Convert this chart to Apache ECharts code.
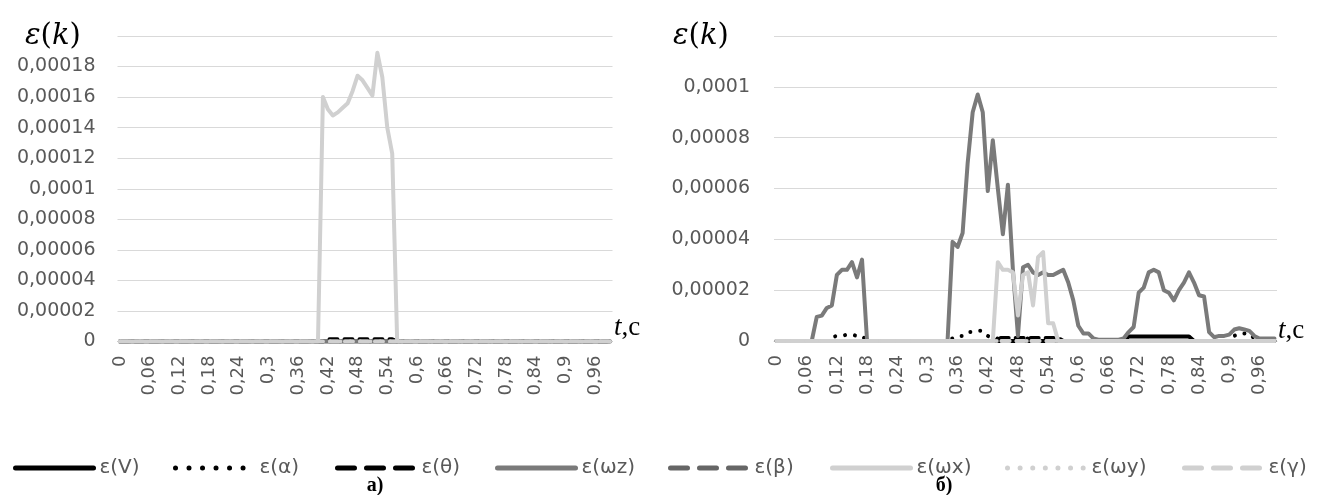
<!DOCTYPE html>
<html>
<head>
<meta charset="utf-8">
<script src="https://cdn.jsdelivr.net/npm/echarts@6/dist/echarts.min.js"></script>
<style>
html,body{margin:0;padding:0;background:#fff;}
#c{width:1321px;height:495px;}
</style>
</head>
<body>
<div id="c"></div>
<script>
// ---- categories (time, s) ----
const tLabels = [
"0","0,01","0,02","0,03","0,04","0,05","0,06","0,07","0,08","0,09",
"0,1","0,11","0,12","0,13","0,14","0,15","0,16","0,17","0,18","0,19",
"0,2","0,21","0,22","0,23","0,24","0,25","0,26","0,27","0,28","0,29",
"0,3","0,31","0,32","0,33","0,34","0,35","0,36","0,37","0,38","0,39",
"0,4","0,41","0,42","0,43","0,44","0,45","0,46","0,47","0,48","0,49",
"0,5","0,51","0,52","0,53","0,54","0,55","0,56","0,57","0,58","0,59",
"0,6","0,61","0,62","0,63","0,64","0,65","0,66","0,67","0,68","0,69",
"0,7","0,71","0,72","0,73","0,74","0,75","0,76","0,77","0,78","0,79",
"0,8","0,81","0,82","0,83","0,84","0,85","0,86","0,87","0,88","0,89",
"0,9","0,91","0,92","0,93","0,94","0,95","0,96","0,97","0,98","0,99"];

const seriesNames = ["ε(V)","ε(α)","ε(θ)","ε(ωz)","ε(β)","ε(ωx)","ε(ωy)","ε(γ)"];

// ---- chart а) ----
const aV = [
0,0,0,0,0,0,0,0,0,0, 0,0,0,0,0,0,0,0,0,0, 0,0,0,0,0,0,0,0,0,0, 0,0,0,0,0,0,0,0,0,0, 0,0,0,0,0,0,0,0,0,0,
0,0,0,0,0,0,0,0,0,0, 0,0,0,0,0,0,0,0,0,0, 0,0,0,0,0,0,0,0,0,0, 0,0,0,0,0,0,0,0,0,0, 0,0,0,0,0,0,0,0,0,0];
const aAlpha = [
0,0,0,0,0,0,0,0,0,0, 0,0,0,0,0,0,0,0,0,0, 0,0,0,0,0,0,0,0,0,0, 0,0,0,0,0,0,0,0,0,0, 0,0,0,0,0,0,0,0,0,0,
0,0,0,0,0,0,0,0,0,0, 0,0,0,0,0,0,0,0,0,0, 0,0,0,0,0,0,0,0,0,0, 0,0,0,0,0,0,0,0,0,0, 0,0,0,0,0,0,0,0,0,0];
const aTheta = [
0,0,0,0,0,0,0,0,0,0, 0,0,0,0,0,0,0,0,0,0, 0,0,0,0,0,0,0,0,0,0, 0,0,0,0,0,0,0,0,0,0,
0,0,0.0000015,0.0000015,0.0000015,0.0000015,0.0000015,0.0000015,0.0000015,0.0000015,
0.0000015,0.0000015,0.0000015,0.0000015,0.0000015,0.0000015,0,0,0,0,
0,0,0,0,0,0,0,0,0,0, 0,0,0,0,0,0,0,0,0,0, 0,0,0,0,0,0,0,0,0,0, 0,0,0,0,0,0,0,0,0,0];
const aOmegaZ = [
0,0,0,0,0,0,0,0,0,0, 0,0,0,0,0,0,0,0,0,0, 0,0,0,0,0,0,0,0,0,0, 0,0,0,0,0,0,0,0,0,0, 0,0,0,0,0,0,0,0,0,0,
0,0,0,0,0,0,0,0,0,0, 0,0,0,0,0,0,0,0,0,0, 0,0,0,0,0,0,0,0,0,0, 0,0,0,0,0,0,0,0,0,0, 0,0,0,0,0,0,0,0,0,0];
const aBeta = [
0,0,0,0,0,0,0,0,0,0, 0,0,0,0,0,0,0,0,0,0, 0,0,0,0,0,0,0,0,0,0, 0,0,0,0,0,0,0,0,0,0, 0,0,0,0,0,0,0,0,0,0,
0,0,0,0,0,0,0,0,0,0, 0,0,0,0,0,0,0,0,0,0, 0,0,0,0,0,0,0,0,0,0, 0,0,0,0,0,0,0,0,0,0, 0,0,0,0,0,0,0,0,0,0];
const aOmegaX = [
0,0,0,0,0,0,0,0,0,0, 0,0,0,0,0,0,0,0,0,0, 0,0,0,0,0,0,0,0,0,0, 0,0,0,0,0,0,0,0,0,0,
0,0.00016,0.000152,0.000148,0.00015,0.000153,0.000156,0.000164,0.000174,0.000171,
0.000166,0.000161,0.000189,0.000173,0.00014,0.000123,0,0,0,0,
0,0,0,0,0,0,0,0,0,0, 0,0,0,0,0,0,0,0,0,0, 0,0,0,0,0,0,0,0,0,0, 0,0,0,0,0,0,0,0,0,0];
const aOmegaY = [
0,0,0,0,0,0,0,0,0,0, 0,0,0,0,0,0,0,0,0,0, 0,0,0,0,0,0,0,0,0,0, 0,0,0,0,0,0,0,0,0,0, 0,0,0,0,0,0,0,0,0,0,
0,0,0,0,0,0,0,0,0,0, 0,0,0,0,0,0,0,0,0,0, 0,0,0,0,0,0,0,0,0,0, 0,0,0,0,0,0,0,0,0,0, 0,0,0,0,0,0,0,0,0,0];
const aGamma = [
0,0,0,0,0,0,0,0,0,0, 0,0,0,0,0,0,0,0,0,0, 0,0,0,0,0,0,0,0,0,0, 0,0,0,0,0,0,0,0,0,0, 0,0,0,0,0,0,0,0,0,0,
0,0,0,0,0,0,0,0,0,0, 0,0,0,0,0,0,0,0,0,0, 0,0,0,0,0,0,0,0,0,0, 0,0,0,0,0,0,0,0,0,0, 0,0,0,0,0,0,0,0,0,0];

// ---- chart б) ----
const bV = [
0,0,0,0,0,0,0,0,0,0, 0,0,0,0,0,0,0,0,0,0, 0,0,0,0,0,0,0,0,0,0, 0,0,0,0,0,0,0,0,0,0, 0,0,0,0,0,0,0,0,0,0,
0,0,0,0,0,0,0,0,0,0, 0,0,0,0,0,0,0,0,0,0,
0.0000018,0.0000018,0.0000018,0.0000018,0.0000018,0.0000018,0.0000018,0.0000018,0.0000018,0.0000018,
0.0000018,0.0000018,0.0000018,0,0,0,0,0,0,0,
0,0,0,0,0,0,0,0,0,0];
const bAlpha = [
0,0,0,0,0,0,0,0,0,0,
0,0.0000015,0.000002,0.000002,0.0000025,0.0000025,0.000002,0.000002,0,0,
0,0,0,0,0,0,0,0,0,0,
0,0,0,0,0,0.000001,0.000002,0.000002,0.0000035,0.0000035,
0.000004,0.000004,0.000002,0.000001,0.000001,0.000001,0.000001,0.000001,0.000001,0.000001,
0.000001,0.000001,0.000001,0.000001,0.000001,0.000001,0.000001,0,0,0,
0,0,0,0,0,0,0,0,0,0, 0,0,0,0,0,0,0,0,0,0, 0,0,0,0,0,0,0,0,0,0,
0,0.000002,0.000003,0.000003,0.000003,0.000001,0,0,0,0];
const bTheta = [
0,0,0,0,0,0,0,0,0,0, 0,0,0,0,0,0,0,0,0,0, 0,0,0,0,0,0,0,0,0,0, 0,0,0,0,0,0,0,0,0,0,
0,0,0,0,0.0000012,0.0000012,0.0000012,0.0000012,0.0000012,0.0000012,
0.0000012,0.0000012,0.0000012,0.0000012,0.0000012,0.0000012,0.0000012,0,0,0,
0,0,0,0,0,0,0,0,0,0, 0,0,0,0,0,0,0,0,0,0, 0,0,0,0,0,0,0,0,0,0, 0,0,0,0,0,0,0,0,0,0];
const bOmegaZ = [
0,0,0,0,0,0,0,0,0.0000095,0.00001,
0.000013,0.000014,0.000026,0.000028,0.000028,0.000031,0.000025,0.000032,0,0,
0,0,0,0,0,0,0,0,0,0,
0,0,0,0,0,0.000039,0.000037,0.0000425,0.00007,0.00009,
0.000097,0.00009,0.000059,0.000079,0.00006,0.000042,0.0000615,0.000028,0.000002,0.000029,
0.00003,0.000027,0.000026,0.000027,0.000026,0.000026,0.000027,0.000028,0.000023,0.000016,
0.000006,0.000003,0.000003,0.000001,0.0000005,0.0000005,0.0000005,0.0000005,0.0000005,0.000001,
0.0000035,0.0000055,0.000019,0.000021,0.000027,0.000028,0.000027,0.00002,0.000019,0.000016,
0.00002,0.000023,0.000027,0.000023,0.000018,0.0000175,0.0000035,0.0000015,0.000002,0.000002,
0.0000025,0.0000045,0.000005,0.0000045,0.000004,0.000002,0.000001,0.000001,0.000001,0.000001];
const bBeta = [
0,0,0,0,0,0,0,0,0,0, 0,0,0,0,0,0,0,0,0,0, 0,0,0,0,0,0,0,0,0,0, 0,0,0,0,0,0,0,0,0,0, 0,0,0,0,0,0,0,0,0,0,
0,0,0,0,0,0,0,0,0,0, 0,0,0,0,0,0,0,0,0,0, 0,0,0,0,0,0,0,0,0,0, 0,0,0,0,0,0,0,0,0,0, 0,0,0,0,0,0,0,0,0,0];
const bOmegaX = [
0,0,0,0,0,0,0,0,0,0, 0,0,0,0,0,0,0,0,0,0, 0,0,0,0,0,0,0,0,0,0, 0,0,0,0,0,0,0,0,0,0,
0,0,0,0,0.000031,0.000028,0.000028,0.000027,0.00001,0.000026,
0.000027,0.000014,0.000033,0.000035,0.000007,0.000007,0,0,0,0,
0,0,0,0,0,0,0,0,0,0, 0,0,0,0,0,0,0,0,0,0, 0,0,0,0,0,0,0,0,0,0, 0,0,0,0,0,0,0,0,0,0];
const bOmegaY = [
0,0,0,0,0,0,0,0,0,0, 0,0,0,0,0,0,0,0,0,0, 0,0,0,0,0,0,0,0,0,0, 0,0,0,0,0,0,0,0,0,0, 0,0,0,0,0,0,0,0,0,0,
0,0,0,0,0,0,0,0,0,0, 0,0,0,0,0,0,0,0,0,0, 0,0,0,0,0,0,0,0,0,0, 0,0,0,0,0,0,0,0,0,0, 0,0,0,0,0,0,0,0,0,0];
const bGamma = [
0,0,0,0,0,0,0,0,0,0, 0,0,0,0,0,0,0,0,0,0, 0,0,0,0,0,0,0,0,0,0, 0,0,0,0,0,0,0,0,0,0, 0,0,0,0,0,0,0,0,0,0,
0,0,0,0,0,0,0,0,0,0, 0,0,0,0,0,0,0,0,0,0, 0,0,0,0,0,0,0,0,0,0, 0,0,0,0,0,0,0,0,0,0, 0,0,0,0,0,0,0,0,0,0];

const dataA = [aV, aAlpha, aTheta, aOmegaZ, aBeta, aOmegaX, aOmegaY, aGamma];
const dataB = [bV, bAlpha, bTheta, bOmegaZ, bBeta, bOmegaX, bOmegaY, bGamma];

// ---- styles ----
const styles = [
  {color:'#000000', type:'solid'},
  {color:'#000000', type:[0.01, 10]},
  {color:'#000000', type:[8, 7]},
  {color:'#7a7a7a', type:'solid'},
  {color:'#666666', type:[8, 7]},
  {color:'#d0d0d0', type:'solid'},
  {color:'#d0d0d0', type:[0.01, 10]},
  {color:'#d0d0d0', type:[8, 7]}
];
const legendStyles = [
  {type:'solid'}, {type:[0.01, 13.5]}, {type:[17, 12]}, {type:'solid'},
  {type:[17, 12]}, {type:'solid'}, {type:[0.01, 12.6]}, {type:[17, 12]}
];
const legendLeft = [13, 173, 335, 495, 668, 830, 1005, 1182];

const fmtY = v => v === 0 ? '0' : String(parseFloat(v.toPrecision(4))).replace('.', ',');

const series = [];
[dataA, dataB].forEach((set, gi) => {
  set.forEach((arr, i) => {
    series.push({
      name: seriesNames[i], type: 'line', xAxisIndex: gi, yAxisIndex: gi,
      data: arr, symbol: 'none', smooth: false, animation: false,
      color: styles[i].color,
      lineStyle: {color: styles[i].color, width: 4, type: styles[i].type, cap: 'round', join: 'round'},
      emphasis: {disabled: true}
    });
  });
});

const legends = seriesNames.map((n, i) => ({
  data: [n], left: legendLeft[i], top: 458, orient: 'horizontal', padding: 0,
  itemWidth: 78, itemHeight: 14, itemGap: 5, selectedMode: false,
  textStyle: {fontFamily: 'DejaVu Sans', fontSize: 20, color: '#595959', padding: [0,0,0,1]},
  itemStyle: {opacity: 0},
  lineStyle: {width: 5, type: legendStyles[i].type, cap: 'round', color: styles[i].color}
}));

const axisLabelY = {fontFamily: 'DejaVu Sans', fontSize: 19, color: '#595959', formatter: fmtY, showMaxLabel: false};
const mkX = gi => ({
  type: 'category', gridIndex: gi, data: tLabels, boundaryGap: true,
  axisTick: {show: false},
  axisLine: {show: true, lineStyle: {color: '#d9d9d9', width: 1}},
  axisLabel: {interval: 5, rotate: 90, fontFamily: 'DejaVu Sans', fontSize: 18, color: '#595959', margin: 14}
});

const serif = 'DejaVu Serif';
const option = {
  animation: false,
  backgroundColor: '#ffffff',
  grid: [
    {left: 117.5, top: 36, width: 495, height: 305.5},
    {left: 774, top: 36, width: 503, height: 305}
  ],
  xAxis: [mkX(0), mkX(1)],
  yAxis: [
    {type: 'value', gridIndex: 0, min: 0, max: 0.0002, interval: 0.00002,
     axisLine: {show: false}, axisTick: {show: false},
     splitLine: {lineStyle: {color: '#d9d9d9', width: 1}},
     axisLabel: Object.assign({margin: 22}, axisLabelY)},
    {type: 'value', gridIndex: 1, min: 0, max: 0.00012, interval: 0.00002,
     axisLine: {show: false}, axisTick: {show: false},
     splitLine: {lineStyle: {color: '#d9d9d9', width: 1}},
     axisLabel: Object.assign({margin: 24}, axisLabelY)}
  ],
  legend: legends,
  series: series,
  graphic: [
    {type: 'text', x: 25, y: 36, style: {text: '{i|ε}{r|(}{i|k}{r|)}', verticalAlign: 'middle', align: 'left',
      rich: {i: {fontFamily: serif, fontStyle: 'italic', fontSize: 29, fill: '#000'}, r: {fontFamily: serif, fontSize: 29, fill: '#000'}}}},
    {type: 'text', x: 673, y: 36, style: {text: '{i|ε}{r|(}{i|k}{r|)}', verticalAlign: 'middle', align: 'left',
      rich: {i: {fontFamily: serif, fontStyle: 'italic', fontSize: 29, fill: '#000'}, r: {fontFamily: serif, fontSize: 29, fill: '#000'}}}},
    {type: 'text', x: 614, y: 328, style: {text: '{i|t}{r|,c}', verticalAlign: 'middle', align: 'left',
      rich: {i: {fontFamily: 'Liberation Serif', fontStyle: 'italic', fontSize: 27, fill: '#000'}, r: {fontFamily: 'Liberation Serif', fontSize: 27, fill: '#000'}}}},
    {type: 'text', x: 1278, y: 331, style: {text: '{i|t}{r|,c}', verticalAlign: 'middle', align: 'left',
      rich: {i: {fontFamily: 'Liberation Serif', fontStyle: 'italic', fontSize: 27, fill: '#000'}, r: {fontFamily: 'Liberation Serif', fontSize: 27, fill: '#000'}}}},
    {type: 'text', x: 375, y: 486, style: {text: 'а)', align: 'center', verticalAlign: 'middle',
      font: 'bold 20px "Liberation Serif"', fill: '#000'}},
    {type: 'text', x: 944, y: 486, style: {text: 'б)', align: 'center', verticalAlign: 'middle',
      font: 'bold 20px "Liberation Serif"', fill: '#000'}}
  ]
};

const chart = echarts.init(document.getElementById('c'), null, {renderer: 'canvas'});
chart.setOption(option);
</script>
</body>
</html>
